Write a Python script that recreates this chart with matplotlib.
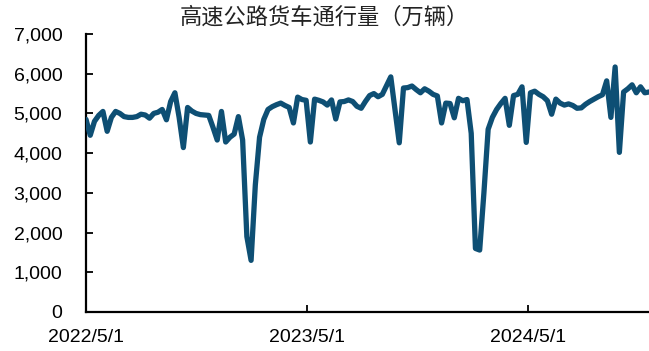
import pandas as pd
import matplotlib.pyplot as plt
import matplotlib.dates as mdates
from matplotlib.ticker import FuncFormatter

plt.rcParams['font.family'] = ['Liberation Sans', 'DejaVu Sans']

# weekly freight-truck traffic on expressways, 10k vehicles
start_date = '2022-05-01'
truck_volume = [
    4850, 4450, 4800, 4950, 5050, 4550, 4900, 5050, 5000, 4920,
    4900, 4900, 4920, 4980, 4960, 4880, 5000, 5030, 5100, 4840,
    5300, 5520, 4900, 4140, 5150, 5060, 5000, 4970, 4960, 4950,
    4650, 4330, 5050, 4280, 4400, 4480, 4920, 4330, 1900, 1300,
    3200, 4400, 4850, 5100, 5170, 5220, 5260, 5200, 5150, 4760,
    5410, 5350, 5330, 4280, 5360, 5330, 5290, 5210, 5340, 4860,
    5290, 5300, 5340, 5300, 5180, 5130, 5300, 5450, 5500, 5420,
    5480, 5700, 5920, 5100, 4260, 5640, 5650, 5690, 5600, 5520,
    5620, 5560, 5480, 5440, 4760, 5260, 5250, 4890, 5380, 5320,
    5350, 4500, 1600, 1560, 3000, 4600, 4900, 5100, 5250, 5380,
    4700, 5450, 5480, 5670, 4270, 5520, 5560, 5480, 5420, 5320,
    4980, 5360, 5260, 5210, 5240, 5200, 5130, 5140, 5230, 5300,
    5360, 5420, 5470, 5820, 4900, 6170, 4020, 5540, 5620, 5720,
    5520, 5670, 5520, 5540,
]
dates = pd.date_range(start_date, periods=len(truck_volume), freq='7D')
tick_dates = pd.to_datetime(['2022-05-01', '2023-05-01', '2024-05-01'])


def date_label(v, _):
    d = mdates.num2date(v)
    return f"{d.year}/{d.month}/{d.day}"


fig = plt.figure(figsize=(6.49, 3.51), dpi=100)
ax = fig.add_axes([86 / 649, 39 / 351, 1 - 86 / 649, 278 / 351])

ax.plot(dates, truck_volume, color='#0E4F74', linewidth=3.8,
        solid_joinstyle='round', solid_capstyle='round', zorder=3)

ax.set_xlim(dates[0], dates[-1])
ax.set_ylim(0, 7000)
ax.set_yticks(range(0, 7001, 1000))
ax.yaxis.set_major_formatter(FuncFormatter(lambda v, _: f"{int(v):,}"))
ax.set_xticks(tick_dates)
ax.xaxis.set_major_formatter(FuncFormatter(date_label))

ax.tick_params(axis='both', direction='in', length=5, width=1.3,
               labelsize=14, colors='black')
ax.tick_params(axis='x', pad=12)
ax.tick_params(axis='y', pad=17)

for spine in ['top', 'right']:
    ax.spines[spine].set_visible(False)
for spine in ['left', 'bottom']:
    ax.spines[spine].set_linewidth(1.6)
    ax.spines[spine].set_color('black')

fig.text(0.5, 0.952, '高速公路货车通行量（万辆）', ha='center', va='center',
         fontsize=16, family=['Noto Sans CJK SC', 'DejaVu Sans'], color='#222222')

fig.savefig('out.png', dpi=100)
